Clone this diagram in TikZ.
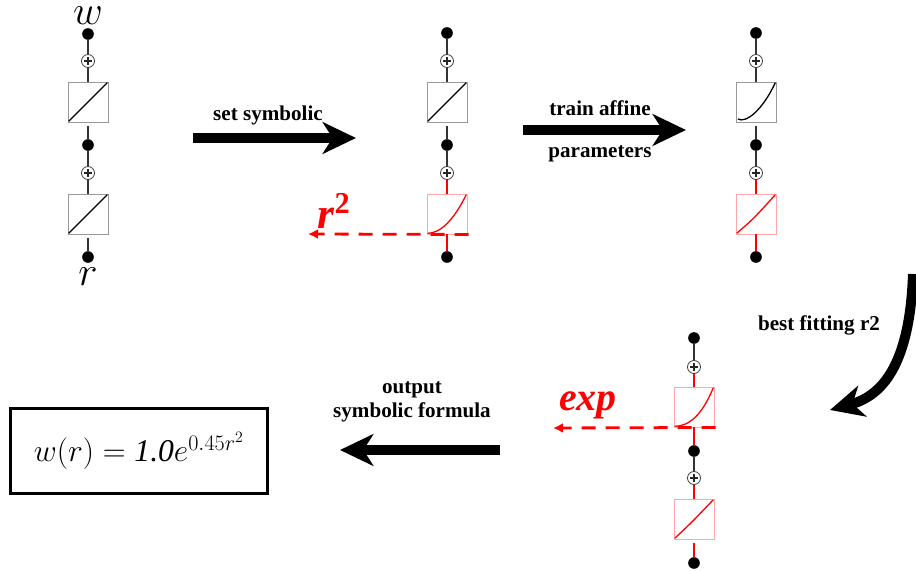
\documentclass[tikz,border=0pt]{standalone}
\usepackage{fix-cm}
\usepackage{fontspec}
\usepackage{bm}
\setmainfont{Liberation Serif}
\usetikzlibrary{arrows.meta, positioning, calc}
\tikzset{
  dot/.style={circle,fill=black,inner sep=0pt,minimum size=3.5mm},
  plus/.style={circle,draw=black!75,line width=0.7pt,inner sep=0pt,minimum size=3.9mm,
    path picture={\draw[line width=0.9pt,black!85]
      ($(path picture bounding box.center)+(-1.2mm,0)$) -- ++(2.4mm,0)
      ($(path picture bounding box.center)+(0,-1.2mm)$) -- ++(0,2.4mm);}},
  actbox/.style={rectangle,draw=black!40,line width=0.8pt,minimum size=1.2cm,inner sep=0pt},
  redbox/.style={actbox,draw=red!35},
  wire/.style={line width=0.9pt,black!80},
  redwire/.style={line width=0.9pt,red},
  outwire/.style={shorten <=1.2mm},
  curve/.style={line width=1.1pt,black},
  redcurve/.style={line width=1.1pt,red},
  fitline/.style={red,line width=2.4pt,dash pattern=on 4.2mm off 3mm,-{Latex[length=3mm,width=3mm]}},
  bigarrow/.style={line width=0.3cm,-{Stealth[length=1cm,width=0.95cm,inset=0.3cm]}},
  lbl/.style={font=\bfseries\fontsize{18}{21}\selectfont,align=center},
  varlbl/.style={inner sep=0pt,font=\fontsize{35}{38}\selectfont},
  symlbl/.style={red,inner sep=0pt}
}

\begin{document}
\begin{tikzpicture}[x=0.03cm,y=-0.03cm]
\useasboundingbox (0,0) rectangle (916,571);

% column 1: initial network
\node[varlbl] (w) at (88,16) {$w$};
\node[dot] (a1) at (88,34) {};
\node[plus] (ap1) at (88,61) {};
\node[actbox] (ab1) at (88,102) {};
\node[dot] (a2) at (88,145) {};
\node[plus] (ap2) at (88,173) {};
\node[actbox] (ab2) at (88,214) {};
\node[dot] (a3) at (88,257) {};
\node[varlbl] (r) at (88,277) {$r$};
\draw[wire] (a1) -- (ap1) -- (ab1);
\draw[wire,outwire] (ab1) -- (a2);
\draw[wire] (a2) -- (ap2) -- (ab2);
\draw[wire,outwire] (ab2) -- (a3);
\draw[curve] ($(ab1.south west)+(1pt,1pt)$) -- ($(ab1.north east)+(-1pt,-1pt)$);
\draw[curve] ($(ab2.south west)+(1pt,1pt)$) -- ($(ab2.north east)+(-1pt,-1pt)$);

% column 2: set symbolic
\node[dot] (b1) at (447,33) {};
\node[plus] (bp1) at (447,61) {};
\node[actbox] (bb1) at (447,102) {};
\node[dot] (b2) at (447,145) {};
\node[plus] (bp2) at (447,173) {};
\node[redbox] (bb2) at (447,214) {};
\node[dot] (b3) at (447,257) {};
\draw[wire] (b1) -- (bp1) -- (bb1);
\draw[wire,outwire] (bb1) -- (b2);
\draw[wire] (b2) -- (bp2);
\draw[redwire] (bp2) -- (bb2);
\draw[redwire] (bb2) -- (b3);
\draw[curve] ($(bb1.south west)+(1pt,1pt)$) -- ($(bb1.north east)+(-1pt,-1pt)$);
\draw[redcurve] ($(bb2.south west)+(1pt,1pt)$) .. controls ($(bb2.south west)+(0.4cm,1pt)$) and ($(bb2.south west)+(0.8cm,0.4cm)$) .. ($(bb2.north east)+(-1pt,-1pt)$);
\coordinate (r2end) at (308,234);
\draw[fitline] ($(bb2.south east)+(1pt,0)$) -- (r2end);
\node[symlbl,font=\fontsize{37}{40}\selectfont] (r2) at (334,211) {\textbf{\textit{r}\textsuperscript{2}}};

% column 3: trained affine parameters
\node[dot] (c1) at (756,33) {};
\node[plus] (cp1) at (756,61) {};
\node[actbox] (cb1) at (756,102) {};
\node[dot] (c2) at (756,145) {};
\node[plus] (cp2) at (756,173) {};
\node[redbox] (cb2) at (756,214) {};
\node[dot] (c3) at (756,257) {};
\draw[wire] (c1) -- (cp1) -- (cb1);
\draw[wire,outwire] (cb1) -- (c2);
\draw[wire] (c2) -- (cp2);
\draw[redwire] (cp2) -- (cb2);
\draw[redwire] (cb2) -- (c3);
\draw[curve] ($(cb1.south west)+(2pt,3pt)$) .. controls ($(cb1.south west)+(0.3cm,-1pt)$) and ($(cb1.south west)+(0.8cm,0.35cm)$) .. ($(cb1.north east)+(-1pt,-1pt)$);
\draw[redcurve] ($(cb2.south west)+(1pt,1pt)$) .. controls ($(cb2.center)+(-2pt,-4pt)$) .. ($(cb2.north east)+(-1pt,-1pt)$);

% column 4: exp fitted
\node[dot] (d1) at (694,338) {};
\node[plus] (dp1) at (694,367) {};
\node[redbox] (db1) at (694,407) {};
\node[dot] (d2) at (694,451) {};
\node[plus] (dp2) at (694,478) {};
\node[redbox] (db2) at (694,519) {};
\node[dot] (d3) at (694,563) {};
\draw[wire] (d1) -- (dp1);
\draw[redwire] (dp1) -- (db1);
\draw[redwire] (db1) -- (d2);
\draw[wire] (d2) -- (dp2);
\draw[redwire] (dp2) -- (db2);
\draw[redwire,outwire] (db2) -- (d3);
\draw[redcurve] ($(db1.south west)+(1pt,1pt)$) .. controls ($(db1.south west)+(0.45cm,1pt)$) and ($(db1.south west)+(0.85cm,0.35cm)$) .. ($(db1.north east)+(-1pt,-1pt)$);
\draw[redcurve] ($(db2.south west)+(1pt,1pt)$) .. controls ($(db2.center)+(-2pt,-3pt)$) .. ($(db2.north east)+(-1pt,-1pt)$);
\coordinate (expend) at (553,428);
\draw[fitline] ($(db1.south east)+(1pt,0)$) -- (expend);
\node[symlbl,font=\bfseries\itshape\fontsize{34}{36}\selectfont] (exp) at (588,405) {exp};

% formula
\node[draw,line width=2.4pt,minimum width=7.7cm,minimum height=2.55cm,font=\fontsize{27}{30}\selectfont] (res) at (139,451) {$w(r) = \textit{1.0}e^{0.45r^2}$};

% big arrows and step labels
\coordinate (s1a) at (193,138);
\coordinate (s1b) at (356,138);
\draw[bigarrow] (s1a) -- (s1b);
\node[lbl] (s1) at (268,115) {set symbolic};
\coordinate (s2a) at (523,130);
\coordinate (s2b) at (686,130);
\draw[bigarrow] (s2a) -- (s2b);
\node[lbl] (s2) at (600,108) {train affine};
\node[lbl] (s2l) at (600,154) {parameters};
\coordinate (s3a) at (913,274);
\coordinate (s3b) at (830,410);
\draw[bigarrow] (s3a) .. controls (910,360) and (885,395) .. (s3b);
\node[lbl] (s3) at (819,325) {best fitting r2};
\coordinate (s4a) at (500,450);
\coordinate (s4b) at (340,450);
\draw[bigarrow] (s4a) -- (s4b);
\node[lbl] (s4) at (412,402) {output\\symbolic formula};
\end{tikzpicture}
\end{document}
